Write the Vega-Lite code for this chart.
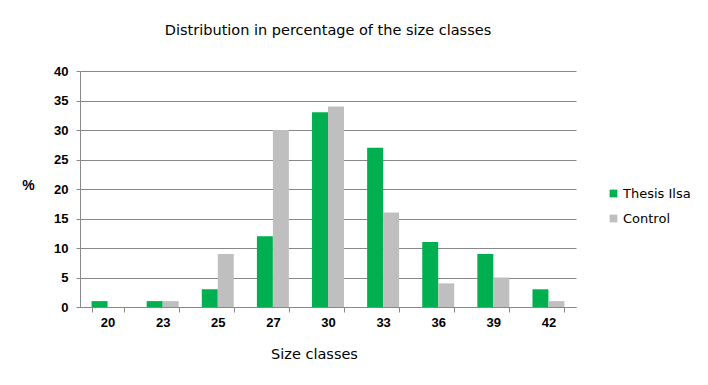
{
  "$schema": "https://vega.github.io/schema/vega-lite/v6.json",
  "width": 496,
  "height": 236,
  "autosize": "none",
  "padding": {"left": 80, "top": 71, "right": 132, "bottom": 78},
  "background": "white",
  "title": {"text": "Distribution in percentage of the size classes", "font": "DejaVu Sans", "fontSize": 14.5, "fontWeight": "normal", "color": "#000", "anchor": "middle", "offset": 27},
  "data": {"values": [
    {"size": "20", "series": "Thesis Ilsa", "pct": 1},
    {"size": "20", "series": "Control", "pct": 0},
    {"size": "23", "series": "Thesis Ilsa", "pct": 1},
    {"size": "23", "series": "Control", "pct": 1},
    {"size": "25", "series": "Thesis Ilsa", "pct": 3},
    {"size": "25", "series": "Control", "pct": 9},
    {"size": "27", "series": "Thesis Ilsa", "pct": 12},
    {"size": "27", "series": "Control", "pct": 30},
    {"size": "30", "series": "Thesis Ilsa", "pct": 33},
    {"size": "30", "series": "Control", "pct": 34},
    {"size": "33", "series": "Thesis Ilsa", "pct": 27},
    {"size": "33", "series": "Control", "pct": 16},
    {"size": "36", "series": "Thesis Ilsa", "pct": 11},
    {"size": "36", "series": "Control", "pct": 4},
    {"size": "39", "series": "Thesis Ilsa", "pct": 9},
    {"size": "39", "series": "Control", "pct": 5},
    {"size": "42", "series": "Thesis Ilsa", "pct": 3},
    {"size": "42", "series": "Control", "pct": 1}
  ]},
  "mark": {"type": "bar"},
  "encoding": {
    "x": {"field": "size", "type": "nominal", "sort": null,
      "scale": {"paddingInner": 0.42, "paddingOuter": 0.21},
      "axis": {"title": "Size classes", "titleFont": "DejaVu Sans", "titleFontSize": 14.5, "titleFontWeight": "normal", "titleColor": "#000", "titlePadding": 18, "titleX": 234,
        "labelAngle": 0, "labelFont": "Liberation Sans", "labelFontSize": 13, "labelFontWeight": "bold", "labelColor": "#000", "labelPadding": 4,
        "tickBand": "extent", "tickColor": "#888", "tickSize": 5, "domainColor": "#888", "grid": false}},
    "xOffset": {"field": "series", "type": "nominal", "sort": ["Thesis Ilsa", "Control"]},
    "y": {"field": "pct", "type": "quantitative",
      "scale": {"domain": [0, 40]},
      "axis": {"title": "%", "titleAngle": 0, "titleX": -52, "titleY": 114, "titleAlign": "center", "titleBaseline": "middle", "titleFont": "Liberation Sans", "titleFontSize": 14, "titleFontWeight": "bold", "titleColor": "#000",
        "values": [0, 5, 10, 15, 20, 25, 30, 35, 40], "labelFont": "Liberation Sans", "labelFontSize": 13, "labelFontWeight": "bold", "labelColor": "#000", "labelPadding": 8,
        "tickColor": "#888", "tickSize": 4, "domainColor": "#888", "gridColor": "#888", "gridOpacity": 1}},
    "color": {"field": "series", "type": "nominal", "sort": ["Thesis Ilsa", "Control"],
      "scale": {"domain": ["Thesis Ilsa", "Control"], "range": ["#00B050", "#BFBFBF"]},
      "legend": {"title": null, "orient": "none", "legendX": 527, "legendY": 116, "symbolType": "square", "symbolSize": 60, "symbolStrokeWidth": 0, "labelFont": "DejaVu Sans", "labelFontSize": 13, "labelColor": "#000", "rowPadding": 11, "labelOffset": 3}}
  },
  "config": {"view": {"stroke": null}}
}
